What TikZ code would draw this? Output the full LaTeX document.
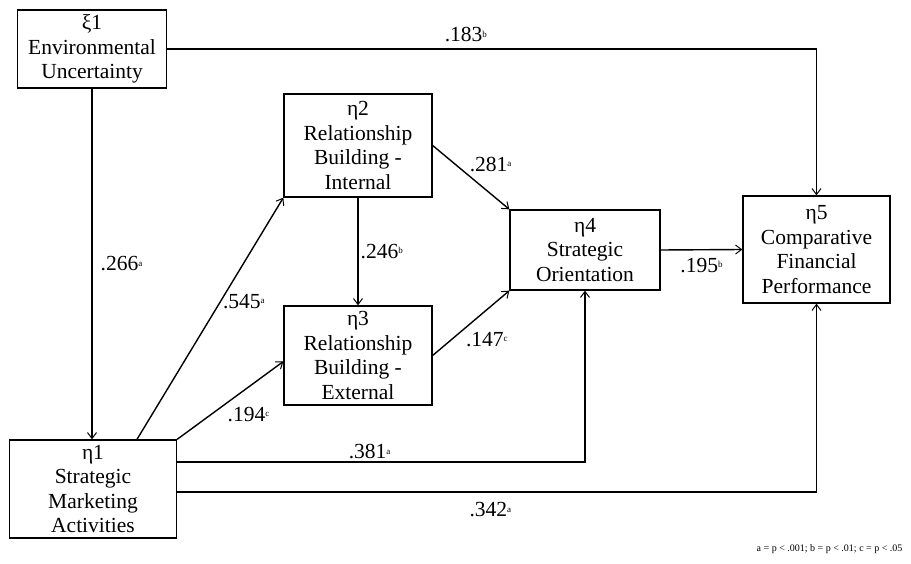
\documentclass[tikz,border=0pt]{standalone}
\usepackage{fontspec}
\setmainfont{Liberation Serif}
\usetikzlibrary{arrows.meta}
\newcommand{\pv}[1]{\raisebox{0.5ex}{\fontsize{9}{9}\selectfont #1}}

\begin{document}
\begin{tikzpicture}[x=1pt,y=-1pt,
  font=\fontsize{21.5}{24.5}\selectfont,
  var/.style={draw,line width=1.3pt,align=center,inner sep=0pt},
  link/.style={draw,line width=1.4pt,-{Straight Barb[length=6pt,width=9pt,line width=1pt]}},
  coef/.style={inner sep=2pt}]
\useasboundingbox (0,0) rectangle (911,564);
\node [var,minimum width=149,minimum height=78] (xi1) at (92,49) {ξ1\\Environmental\\Uncertainty};
\node [var,minimum width=167,minimum height=98] (eta1) at (93,489) {η1\\Strategic\\Marketing\\Activities};
\node [var,minimum width=148,minimum height=103] (eta2) at (358,145.5) {η2\\Relationship\\Building -\\Internal};
\node [var,minimum width=148,minimum height=99] (eta3) at (358,355.5) {η3\\Relationship\\Building -\\External};
\node [var,minimum width=150,minimum height=80] (eta4) at (585,250) {η4\\Strategic\\Orientation};
\node [var,minimum width=147,minimum height=107] (eta5) at (816.5,249.5) {η5\\Comparative\\Financial\\Performance};

\draw [link] (xi1.east) -| (eta5.north) node [coef,pos=0.23,above,yshift=4pt] {.183\pv{b}};
\draw [link] (xi1.south) -- (xi1.south |- eta1.north) node [coef,midway,right,xshift=6pt] {.266\pv{a}};
\draw [link] ([xshift=44pt]eta1.north) -- (eta2.south west) node [coef,pos=0.57,right] {.545\pv{a}};
\draw [link] (eta1.north east) -- ([yshift=-6pt]eta3.west) node [coef,pos=0.45,below right] {.194\pv{c}};
\draw [link] ([yshift=27pt]eta1.east) -| (eta4.south) node [coef,pos=0.236,above] {.381\pv{a}};
\draw [link] ([yshift=-3pt]eta1.east) -| (eta5.south) node [coef,pos=0.245,below,yshift=-8pt] {.342\pv{a}};
\draw [link] (eta2.south) -- (eta3.north) node [coef,midway,right] {.246\pv{b}};
\draw [link] (eta2.east) -- (eta4.north west) node [coef,pos=0.45,above right] {.281\pv{a}};
\draw [link] (eta3.east) -- (eta4.south west) node [coef,pos=0.4,below right] {.147\pv{c}};
\draw [link] (eta4.east) -- (eta5.west) node [coef,midway,below,yshift=-6pt] {.195\pv{b}};

\node [anchor=east,font=\fontsize{10}{12}\selectfont] (note) at (906,549) {a = p < .001; b = p < .01; c = p < .05};
\end{tikzpicture}
\end{document}
